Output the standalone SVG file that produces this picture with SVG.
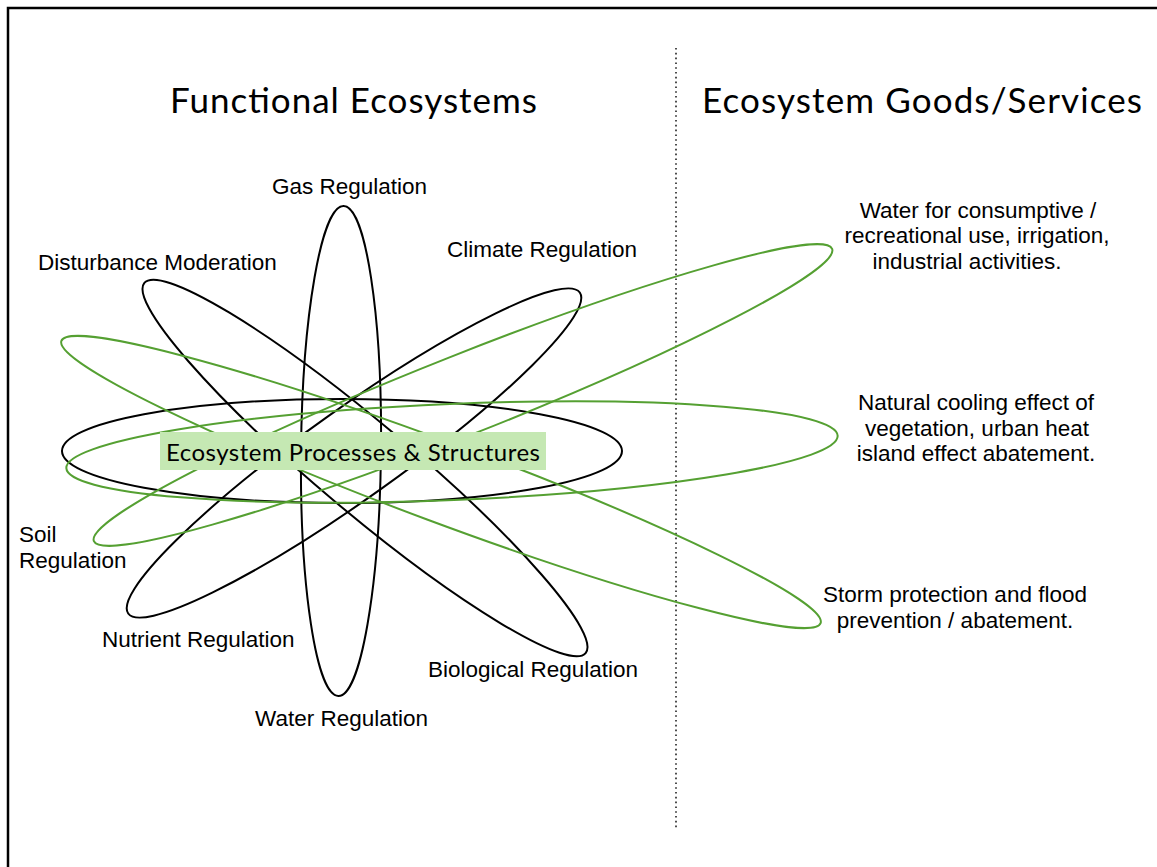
<svg xmlns="http://www.w3.org/2000/svg" width="1157" height="867" viewBox="0 0 1157 867">
  <style>
    .frame { stroke: #000; stroke-width: 2.5; fill: none; }
    .divider { stroke: #222; stroke-width: 1.6; stroke-dasharray: 1.6 3.2; fill: none; }
    .ring-black { stroke: #000; stroke-width: 2; fill: none; }
    .ring-green { stroke: #55a032; stroke-width: 2; fill: none; }
    .title { font-family: Lato, "Open Sans", sans-serif; font-size: 35px; fill: #000; }
    .label { font-family: "Liberation Sans", Arial, sans-serif; font-size: 22.5px; fill: #000; }
    .service { font-family: "Liberation Sans", Arial, sans-serif; font-size: 22.5px; fill: #000; text-anchor: middle; }
    .core-box { fill: #c5e8b3; }
    .core-text { font-family: Lato, "Open Sans", sans-serif; font-size: 24px; fill: #000; }
  </style>

  <rect x="0" y="0" width="1157" height="867" fill="#fff"/>

  <!-- frame and column divider -->
  <path class="frame" d="M8 867 V8 H1157"/>
  <line class="divider" x1="676" y1="48" x2="676" y2="828"/>

  <!-- headings -->
  <text class="title" x="170" y="113" textLength="367">Functional Ecosystems</text>
  <text class="title" x="702" y="113" textLength="440">Ecosystem Goods/Services</text>

  <!-- orbits -->
  <g id="connectors">
    <ellipse class="ring-black" cx="342" cy="451" rx="280" ry="52"/>
    <ellipse class="ring-black" cx="341" cy="451" rx="40" ry="245" transform="rotate(0.6 341 451)"/>
    <ellipse class="ring-black" cx="365" cy="468" rx="288" ry="45" transform="rotate(40 365 468)"/>
    <ellipse class="ring-black" cx="354" cy="453" rx="277" ry="45" transform="rotate(-35.4 354 453)"/>
    <ellipse class="ring-green" cx="463" cy="395" rx="397" ry="40" transform="rotate(-21.6 463 395)"/>
    <ellipse class="ring-green" cx="452" cy="452" rx="386" ry="48" transform="rotate(-2.4 452 452)"/>
    <ellipse class="ring-green" cx="441" cy="482" rx="405" ry="40" transform="rotate(20.4 441 482)"/>
  </g>

  <!-- central node -->
  <g id="core">
    <rect class="core-box" x="160" y="432" width="386" height="38"/>
    <text class="core-text" x="166" y="461" textLength="374">Ecosystem Processes &amp; Structures</text>
  </g>

  <!-- ecosystem functions -->
  <g id="gas"><text class="label" x="272" y="194">Gas Regulation</text></g>
  <g id="disturbance"><text class="label" x="38" y="270">Disturbance Moderation</text></g>
  <g id="climate"><text class="label" x="447" y="257">Climate Regulation</text></g>
  <g id="soil"><text class="label" x="19" y="542">Soil</text><text class="label" x="19" y="568">Regulation</text></g>
  <g id="nutrient"><text class="label" x="102" y="647">Nutrient Regulation</text></g>
  <g id="biological"><text class="label" x="428" y="677">Biological Regulation</text></g>
  <g id="water"><text class="label" x="255" y="726">Water Regulation</text></g>

  <!-- goods and services -->
  <g id="water-use">
    <text class="service" x="978" y="218">Water for consumptive /</text>
    <text class="service" x="977" y="243">recreational use, irrigation,</text>
    <text class="service" x="967" y="269">industrial activities.</text>
  </g>
  <g id="cooling">
    <text class="service" x="976" y="410">Natural cooling effect of</text>
    <text class="service" x="977" y="436">vegetation, urban heat</text>
    <text class="service" x="976" y="461">island effect abatement.</text>
  </g>
  <g id="storm">
    <text class="service" x="955" y="602">Storm protection and flood</text>
    <text class="service" x="955" y="628">prevention / abatement.</text>
  </g>
</svg>
